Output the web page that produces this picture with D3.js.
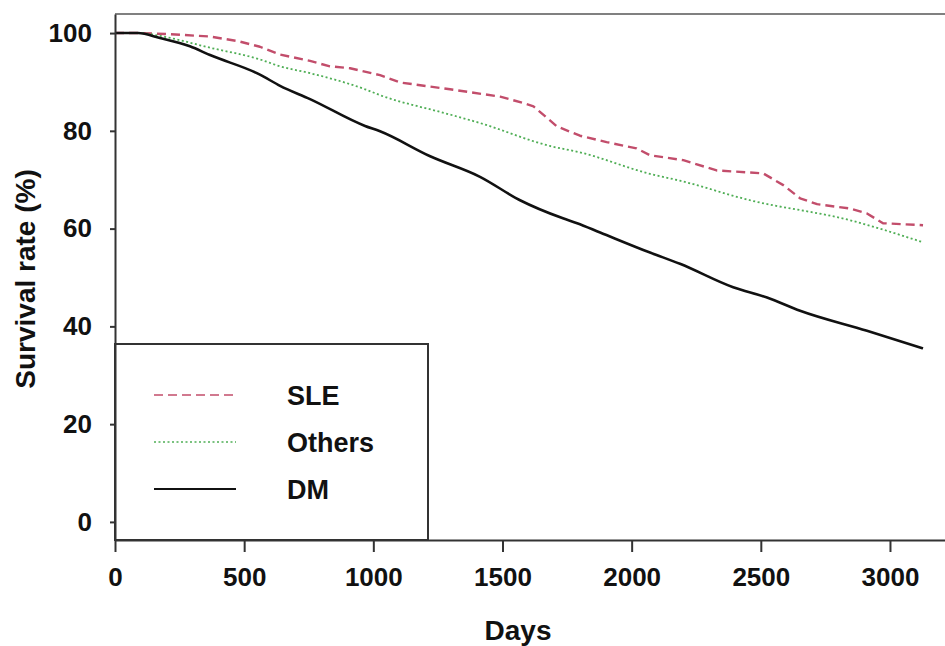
<!DOCTYPE html>
<html>
<head>
<meta charset="utf-8">
<script src="https://cdn.jsdelivr.net/npm/d3@7"></script>
<style>
  body { margin: 0; background: #fff; }
  svg text { font-family: "Liberation Sans", Arial, Helvetica, sans-serif; font-weight: bold; fill: #111; }
</style>
</head>
<body>
<div id="plot"></div>
<script>
// values (days, survival %)
const sleDays = [0, 100, 200, 368, 480, 561, 639, 755, 832, 910, 1026, 1103, 1297, 1426, 1491, 1580, 1620, 1711, 1800, 1903, 2019, 2071, 2200, 2329, 2509, 2587, 2652, 2718, 2846, 2911, 2973, 3128];
const sleRate = [100, 100, 99.8, 99.3, 98.3, 97.2, 95.6, 94.3, 93.2, 92.8, 91.4, 89.9, 88.5, 87.5, 87.0, 85.7, 85.0, 80.9, 79.0, 77.7, 76.4, 75.0, 74.0, 71.9, 71.3, 68.9, 66.2, 65.0, 64.1, 63.1, 61.1, 60.7];

const othDays = [0, 100, 166, 368, 561, 639, 755, 968, 1026, 1278, 1413, 1684, 1800, 2071, 2187, 2458, 2846, 3128];
const othRate = [100, 100, 99.5, 97.0, 94.6, 93.2, 91.8, 88.5, 87.3, 83.6, 81.6, 76.9, 75.6, 71.2, 69.8, 65.8, 61.7, 57.2];

const dmDays = [0, 89, 174, 290, 368, 561, 639, 755, 968, 1026, 1220, 1413, 1568, 1734, 1789, 1878, 2071, 2187, 2393, 2524, 2652, 2911, 3128];
const dmRate = [100, 100, 99.0, 97.3, 95.5, 91.5, 89.2, 86.5, 81.0, 79.9, 74.8, 70.6, 65.8, 62.1, 61.1, 59.2, 55.1, 52.8, 48.0, 45.9, 43.2, 39.1, 35.5];

const xTicks = [0, 500, 1000, 1500, 2000, 2500, 3000];
const yTicks = [0, 20, 40, 60, 80, 100];
const seriesNames = ["SLE", "Others", "DM"];

const svgWidth = 945, svgHeight = 646;
const plotLeft = 115, plotRight = 945, plotTop = 14, plotBottom = 540;

const svg = d3.select("#plot").append("svg")
  .attr("width", svgWidth)
  .attr("height", svgHeight);

const x = d3.scaleLinear().domain([0, 3213]).range([plotLeft, plotRight]);
const y = d3.scaleLinear().domain([-3.7, 103.9]).range([plotBottom, plotTop]);

// frame top line
svg.append("line")
  .attr("x1", plotLeft).attr("x2", plotRight)
  .attr("y1", plotTop).attr("y2", plotTop)
  .attr("stroke", "#808080").attr("stroke-width", 2);

const xAxis = svg.append("g")
  .attr("transform", "translate(0," + plotBottom + ")")
  .call(d3.axisBottom(x).tickValues(xTicks).tickFormat(d3.format("d"))
    .tickSize(12).tickSizeOuter(0).tickPadding(16));
xAxis.selectAll("text").style("font-size", "26px");

const yAxis = svg.append("g")
  .attr("transform", "translate(" + plotLeft + ",0)")
  .call(d3.axisLeft(y).tickValues(yTicks).tickSize(5).tickSizeOuter(0).tickPadding(18));
yAxis.selectAll("text").style("font-size", "26px");

svg.selectAll(".domain, .tick line")
  .attr("stroke", "#333").attr("stroke-width", 2);

// axis titles
svg.append("text")
  .attr("x", 518).attr("y", 640)
  .attr("text-anchor", "middle")
  .style("font-size", "28px")
  .text("Days");

svg.append("text")
  .attr("transform", "translate(35,279) rotate(-90)")
  .attr("text-anchor", "middle")
  .style("font-size", "28px")
  .text("Survival rate (%)");

const styles = {
  SLE:    { color: "#c24d6b", width: 2.4, dash: "9,5", curve: d3.curveLinear },
  Others: { color: "#4fae55", width: 1.8, dash: "2,2.5", curve: d3.curveMonotoneX },
  DM:     { color: "#111111", width: 2.6, dash: null, curve: d3.curveMonotoneX }
};

const series = [
  { name: "SLE", pts: d3.zip(sleDays, sleRate) },
  { name: "Others", pts: d3.zip(othDays, othRate) },
  { name: "DM", pts: d3.zip(dmDays, dmRate) }
];

svg.selectAll(".curve")
  .data(series)
  .enter().append("path")
  .attr("class", "curve")
  .attr("fill", "none")
  .attr("stroke", d => styles[d.name].color)
  .attr("stroke-width", d => styles[d.name].width)
  .attr("stroke-dasharray", d => styles[d.name].dash)
  .attr("stroke-linejoin", "round")
  .attr("d", d => d3.line()
    .x(p => x(p[0]))
    .y(p => y(p[1]))
    .curve(styles[d.name].curve)(d.pts));

// legend box
const lg = svg.append("g");
lg.append("rect")
  .attr("x", plotLeft).attr("y", 344)
  .attr("width", 313).attr("height", plotBottom - 344)
  .attr("fill", "#fff")
  .attr("stroke", "#333").attr("stroke-width", 2);

seriesNames.forEach((name, i) => {
  const cy = 395 + i * 47;
  lg.append("line")
    .attr("x1", 154).attr("x2", 236)
    .attr("y1", cy).attr("y2", cy)
    .attr("stroke", styles[name].color)
    .attr("stroke-width", name === "DM" ? 2 : 1.6)
    .attr("stroke-dasharray", styles[name].dash);
  lg.append("text")
    .attr("x", 287).attr("y", cy + 10)
    .style("font-size", "27px")
    .text(name);
});

// redraw axes above legend box
svg.node().appendChild(xAxis.node());
svg.node().appendChild(yAxis.node());
</script>
</body>
</html>
